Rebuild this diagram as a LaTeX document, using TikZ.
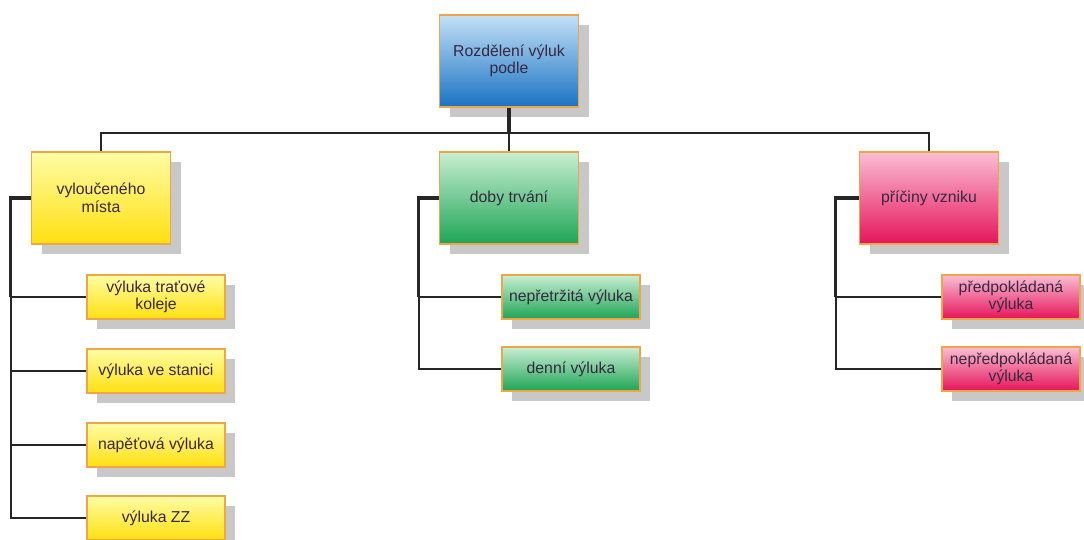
\documentclass[tikz,border=0pt]{standalone}
\usepackage{fontspec}
\setmainfont{Liberation Sans}
\usepackage{tikz}
\usepackage{xcolor}
\usetikzlibrary{shadows, calc}
\definecolor{boxBorder}{RGB}{240,165,70}
\definecolor{blueTop}{RGB}{195,224,247}
\definecolor{blueBottom}{RGB}{25,115,195}
\definecolor{yellowTop}{RGB}{255,252,165}
\definecolor{yellowBottom}{RGB}{255,224,15}
\definecolor{greenTop}{RGB}{200,238,210}
\definecolor{greenBottom}{RGB}{30,165,85}
\definecolor{pinkTop}{RGB}{250,190,212}
\definecolor{pinkBottom}{RGB}{230,20,90}
\definecolor{darkText}{RGB}{55,40,65}
\definecolor{shadowGray}{RGB}{200,200,200}
\tikzset{
    basebox/.style={
        rectangle,
        draw=boxBorder,
        line width=1.8pt,
        align=center,
        text=darkText,
        inner sep=1pt,
        font=\fontsize{15.8}{17.5}\selectfont,
        drop shadow={shadow xshift=10pt, shadow yshift=-10pt, fill=shadowGray, opacity=1}
    },
    bigbox/.style={basebox, minimum width=139pt, minimum height=92pt},
    leafbox/.style={basebox, minimum width=138pt, minimum height=44pt},
    rootfill/.style={top color=blueTop, bottom color=blueBottom},
    yellowfill/.style={top color=yellowTop, bottom color=yellowBottom},
    greenfill/.style={top color=greenTop, bottom color=greenBottom},
    pinkfill/.style={top color=pinkTop, bottom color=pinkBottom},
    mainline/.style={draw=black!85, line width=3.2pt},
    busline/.style={draw=black!85, line width=2.4pt},
    leafline/.style={draw=black!85, line width=2.2pt}
}
\begin{document}
\begin{tikzpicture}[x=1pt, y=-1pt]
    \useasboundingbox (0,0) rectangle (1084,539);
    % top level
    \node[bigbox, rootfill] (root) at (509,61) {Rozdělení výluk\\podle};
    \node[bigbox, yellowfill] (misto) at (101,198) {vyloučeného\\místa};
    \node[bigbox, greenfill] (doba) at (509,198) {doby trvání};
    \node[bigbox, pinkfill] (pricina) at (929,198) {příčiny vzniku};
    % leaves
    \node[leafbox, yellowfill] (trat) at (156,297) {výluka traťové\\koleje};
    \node[leafbox, yellowfill] (stanice) at (156,371) {výluka ve stanici};
    \node[leafbox, yellowfill] (napeti) at (156,445) {napěťová výluka};
    \node[leafbox, yellowfill] (zz) at (156,518) {výluka ZZ};
    \node[leafbox, greenfill] (neprerus) at (571,297) {nepřetržitá výluka};
    \node[leafbox, greenfill] (denni) at (571,369) {denní výluka};
    \node[leafbox, pinkfill] (predpok) at (1011,297) {předpokládaná\\výluka};
    \node[leafbox, pinkfill] (nepredpok) at (1011,369) {nepředpokládaná\\výluka};
    % connectors
    \coordinate (bus) at (509,133);
    \draw[mainline] (root.south) -- (bus);
    \draw[busline] (misto.north) -- (misto.north |- bus) -- (pricina.north |- bus) -- (pricina.north);
    \draw[busline] (doba.north) -- (bus);
    \foreach \leaf in {trat, stanice, napeti, zz}
        \draw[leafline] (misto.west) -- ++(-20,0) |- (\leaf.west);
    \draw[mainline] (misto.west) -- ++(-20,0) -- ++(0,99);
    \foreach \leaf in {neprerus, denni}
        \draw[leafline] (doba.west) -- ++(-20,0) |- (\leaf.west);
    \draw[mainline] (doba.west) -- ++(-20,0) -- ++(0,99);
    \foreach \leaf in {predpok, nepredpok}
        \draw[leafline] (pricina.west) -- ++(-23,0) |- (\leaf.west);
    \draw[mainline] (pricina.west) -- ++(-23,0) -- ++(0,99);
\end{tikzpicture}
\end{document}
